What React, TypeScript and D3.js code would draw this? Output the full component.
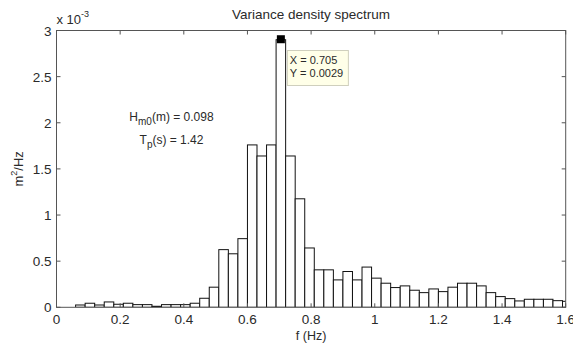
import React, { useEffect } from "react";
import * as d3 from "d3";

// Band-averaged spectrum: centre frequency of each band (Hz)
const freqs = [
  0.075, 0.105, 0.135, 0.165, 0.195, 0.225, 0.255, 0.285, 0.315, 0.345,
  0.375, 0.405, 0.435, 0.465, 0.495, 0.525, 0.555, 0.585, 0.615, 0.645,
  0.675, 0.705, 0.735, 0.765, 0.795, 0.825, 0.855, 0.885, 0.915, 0.945,
  0.975, 1.005, 1.035, 1.065, 1.095, 1.125, 1.155, 1.185, 1.215, 1.245,
  1.275, 1.305, 1.335, 1.365, 1.395, 1.425, 1.455, 1.485, 1.515, 1.545,
  1.575, 1.605,
];

// Variance density in units of 1e-3 m^2/Hz
const density = [
  0.025, 0.044, 0.025, 0.058, 0.033, 0.044, 0.029, 0.029, 0.011, 0.029,
  0.029, 0.029, 0.044, 0.098, 0.218, 0.625, 0.58, 0.744, 1.76, 1.64,
  1.76, 2.9, 1.64, 1.176, 0.643, 0.406, 0.406, 0.297, 0.388, 0.297,
  0.436, 0.316, 0.261, 0.214, 0.232, 0.185, 0.159, 0.199, 0.17, 0.218,
  0.261, 0.261, 0.232, 0.159, 0.116, 0.094, 0.069, 0.087, 0.087, 0.087,
  0.072, 0.065,
];

const bandWidth = 0.03;
const xTicks = [0, 0.2, 0.4, 0.6, 0.8, 1, 1.2, 1.4, 1.6];
const yTicks = [0, 0.5, 1, 1.5, 2, 2.5, 3];

const peakX = 0.705;
const peakY = 2.9;
const hm0 = "0.098";
const tp = "1.42";

const W = 573;
const H = 345;
const left = 56.5;
const right = 565.7;
const top = 30.5;
const bottom = 307.3;

const FONT = "'Liberation Sans', Arial, Helvetica, sans-serif";

export default function App() {
  useEffect(() => {
    document.body.style.margin = "0";
  }, []);

  const x = d3.scaleLinear().domain([0, 1.6]).range([left, right]);
  const y = d3.scaleLinear().domain([0, 3]).range([bottom, top]);

  const tickLen = 4;
  const axisColor = "#555";
  const textColor = "#2a2a2a";

  const mx = x(peakX);
  const my = y(peakY);

  return (
    <svg
      width={W}
      height={H}
      style={{ position: "absolute", left: 0, top: 0, background: "#fff" }}
      fontFamily={FONT}
    >
      <rect x={0} y={0} width={W} height={H} fill="#fff" />
      <defs>
        <clipPath id="plot-area">
          <rect x={left} y={top - 12} width={right - left} height={bottom - top + 12} />
        </clipPath>
      </defs>

      {/* bars */}
      <g clipPath="url(#plot-area)">
        {freqs.map((f, i) => {
          const x0 = x(f - bandWidth / 2);
          const x1 = x(f + bandWidth / 2);
          return (
            <rect
              key={i}
              x={x0}
              y={y(density[i])}
              width={x1 - x0}
              height={y(0) - y(density[i])}
              fill="#fff"
              stroke="#111"
              strokeWidth={1}
            />
          );
        })}
      </g>

      {/* axes box */}
      <rect
        x={left}
        y={top}
        width={right - left}
        height={bottom - top}
        fill="none"
        stroke={axisColor}
        strokeWidth={1}
      />

      {/* x ticks (bottom and top, inward) */}
      {xTicks.map((t) => (
        <g key={"x" + t}>
          <line x1={x(t)} x2={x(t)} y1={bottom} y2={bottom - tickLen} stroke={axisColor} />
          <line x1={x(t)} x2={x(t)} y1={top} y2={top + tickLen} stroke={axisColor} />
          <text
            x={x(t)}
            y={bottom + 16.5}
            textAnchor="middle"
            fontSize={13.5}
            fill={textColor}
          >
            {d3.format("~g")(t)}
          </text>
        </g>
      ))}

      {/* y ticks (left and right, inward) */}
      {yTicks.map((t) => (
        <g key={"y" + t}>
          <line x1={left} x2={left + tickLen} y1={y(t)} y2={y(t)} stroke={axisColor} />
          <line x1={right} x2={right - tickLen} y1={y(t)} y2={y(t)} stroke={axisColor} />
          <text
            x={left - 5}
            y={y(t) + 5}
            textAnchor="end"
            fontSize={13.5}
            fill={textColor}
          >
            {d3.format("~g")(t)}
          </text>
        </g>
      ))}

      {/* exponent label */}
      <text x={left} y={24} fontSize={13} fill={textColor}>
        x 10
        <tspan fontSize={9} dy={-7}>
          -3
        </tspan>
      </text>

      {/* title */}
      <text
        x={(left + right) / 2}
        y={19}
        textAnchor="middle"
        fontSize={13.5}
        fill={textColor}
      >
        Variance density spectrum
      </text>

      {/* axis labels */}
      <text
        x={(left + right) / 2}
        y={340}
        textAnchor="middle"
        fontSize={12.5}
        fill={textColor}
      >
        f (Hz)
      </text>
      <text
        transform={`translate(23, ${(top + bottom) / 2}) rotate(-90)`}
        textAnchor="middle"
        fontSize={13}
        fill={textColor}
      >
        m
        <tspan fontSize={9} dy={-6}>
          2
        </tspan>
        <tspan dy={6}>/Hz</tspan>
      </text>

      {/* wave parameters */}
      <text x={171.5} y={121} textAnchor="middle" fontSize={12} fill={textColor}>
        H
        <tspan fontSize={10} dy={4}>
          m0
        </tspan>
        <tspan dy={-4}>{`(m) = ${hm0}`}</tspan>
      </text>
      <text x={171.5} y={144} textAnchor="middle" fontSize={12} fill={textColor}>
        T
        <tspan fontSize={10} dy={4}>
          p
        </tspan>
        <tspan dy={-4}>{`(s) = ${tp}`}</tspan>
      </text>

      {/* data tip */}
      <rect x={mx - 4} y={my - 4.5} width={8} height={8} fill="#000" />
      <rect
        x={mx + 6.5}
        y={50.5}
        width={61}
        height={35}
        fill="#ffffe8"
        stroke="#cfcfbd"
        strokeWidth={1}
      />
      <text x={mx + 9} y={64} fontSize={11} fill={textColor}>
        {`X = ${peakX}`}
      </text>
      <text x={mx + 9} y={77} fontSize={11} fill={textColor}>
        {`Y = ${(peakY / 1000).toFixed(4)}`}
      </text>
    </svg>
  );
}
